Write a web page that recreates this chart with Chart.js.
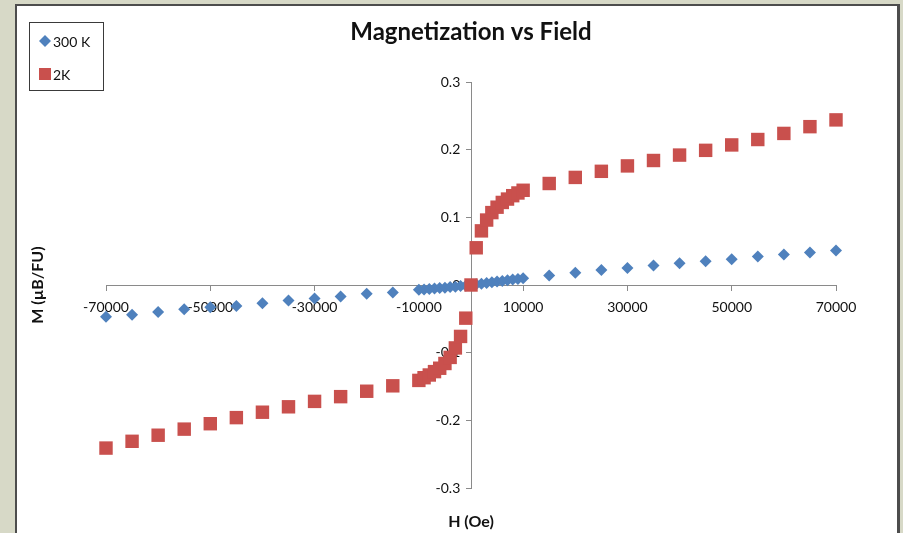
<!DOCTYPE html>
<html>
<head>
<meta charset="utf-8">
<script src="https://cdn.jsdelivr.net/npm/chart.js@4.4.0/dist/chart.umd.min.js"></script>
<style>
    body { margin: 0; background: #d7d9c7; }
    #frame { position: absolute; left: 15px; top: 4px; width: 880px; height: 540px; background: #fff; border: 2px solid #4d4d4d; border-right-width: 3px; }
    #chart { position: absolute; left: 0; top: 0; }
</style>
</head>
<body>
<div id="frame"></div>
<canvas id="chart" width="903" height="533"></canvas>
<script>
// field (Oe), same sweep for both temperatures
var fieldValues = [-70000, -65000, -60000, -55000, -50000, -45000, -40000, -35000, -30000, -25000, -20000, -15000,
    -10000, -9000, -8000, -7000, -6000, -5000, -4000, -3000, -2000, -1000, 0,
    1000, 2000, 3000, 4000, 5000, 6000, 7000, 8000, 9000, 10000,
    15000, 20000, 25000, 30000, 35000, 40000, 45000, 50000, 55000, 60000, 65000, 70000]

var moment300K = [-0.047, -0.044, -0.040, -0.036, -0.033, -0.031, -0.027, -0.023, -0.020, -0.017, -0.013, -0.011,
    -0.007, -0.0065, -0.006, -0.005, -0.0045, -0.004, -0.003, -0.0025, -0.0015, -0.001, 0,
    0.001, 0.002, 0.003, 0.004, 0.005, 0.006, 0.007, 0.008, 0.009, 0.010,
    0.014, 0.018, 0.022, 0.025, 0.029, 0.032, 0.035, 0.038, 0.042, 0.045, 0.048, 0.051]

var moment2K = [-0.241, -0.231, -0.222, -0.213, -0.205, -0.196, -0.188, -0.180, -0.172, -0.165, -0.157, -0.149,
    -0.141, -0.137, -0.133, -0.128, -0.123, -0.116, -0.107, -0.093, -0.076, -0.049, 0.0,
    0.055, 0.080, 0.096, 0.107, 0.115, 0.122, 0.127, 0.132, 0.136, 0.140,
    0.150, 0.159, 0.168, 0.176, 0.184, 0.192, 0.199, 0.207, 0.215, 0.224, 0.234, 0.244]

var seriesNames = ['300 K', '2K']
var xTicks = [-70000, -50000, -30000, -10000, 10000, 30000, 50000, 70000]
var yTicks = [-0.3, -0.2, -0.1, 0, 0.1, 0.2, 0.3]

function toPoints(ys) {
    return fieldValues.map(function (h, i) { return { x: h, y: ys[i] } })
}

// legend drawn as a framed box in the top-left corner, like the original
var boxLegend = {
    id: 'boxLegend',
    afterDraw: function (chart) {
        var ctx = chart.ctx
        ctx.save()
        ctx.strokeStyle = '#3a3a3a'
        ctx.lineWidth = 1
        ctx.strokeRect(29.5, 22.5, 74, 68)
        ctx.font = '14px Lato'
        ctx.textBaseline = 'middle'
        chart.data.datasets.forEach(function (ds, i) {
            var cx = 45, cy = 41 + i * 33
            ctx.fillStyle = ds.backgroundColor
            ctx.beginPath()
            if (ds.pointStyle === 'rectRot') {
                ctx.moveTo(cx - 6, cy)
                ctx.lineTo(cx, cy - 6)
                ctx.lineTo(cx + 6, cy)
                ctx.lineTo(cx, cy + 6)
                ctx.closePath()
            } else {
                ctx.rect(cx - 6, cy - 6, 12, 12)
            }
            ctx.fill()
            ctx.fillStyle = '#111'
            ctx.fillText(ds.label, 53, cy + 1)
        })
        ctx.restore()
    }
}

var tickFont = { family: 'Lato', size: 14 }
var axisGray = '#8a8a8a'

var ctx = document.getElementById('chart').getContext('2d')
window.chart = new Chart(ctx, {
    type: 'scatter',
    data: {
        datasets: [{
            label: seriesNames[0],
            data: toPoints(moment300K),
            pointStyle: 'rectRot',
            pointRadius: 6,
            backgroundColor: '#4f81bd',
            borderColor: '#4f81bd',
            borderWidth: 0,
            clip: false,
            order: 1
        }, {
            label: seriesNames[1],
            data: toPoints(moment2K),
            pointStyle: 'rect',
            pointRadius: 9.5,
            backgroundColor: '#c9504d',
            borderColor: '#c9504d',
            borderWidth: 0,
            clip: false,
            order: 0
        }]
    },
    options: {
        responsive: false,
        animation: false,
        layout: { padding: { left: 0, right: 67, top: 0, bottom: 0 } },
        plugins: {
            legend: { display: false },
            tooltip: { enabled: false },
            title: {
                display: true,
                text: 'Magnetization vs Field',
                fullSize: false,
                color: '#111',
                font: { family: 'Lato', size: 24, weight: 'bold' },
                padding: { top: 17.6, bottom: 35.6 }
            }
        },
        scales: {
            x: {
                type: 'linear',
                min: -70000,
                max: 70000,
                position: { y: 0 },
                z: 1,
                afterBuildTicks: function (axis) { axis.ticks = xTicks.map(function (v) { return { value: v } }) },
                ticks: { font: tickFont, color: '#111', padding: 9, maxRotation: 0, autoSkip: false,
                    callback: function (v) { return String(v) } },
                grid: { drawOnChartArea: false, tickLength: 5, color: axisGray },
                border: { color: axisGray }
            },
            y: {
                type: 'linear',
                min: -0.3,
                max: 0.3,
                position: { x: 0 },
                z: 1,
                afterBuildTicks: function (axis) { axis.ticks = yTicks.map(function (v) { return { value: v } }) },
                // a centred axis puts its labels right on the line, so pad them with spaces
                ticks: { font: tickFont, color: '#111',
                    callback: function (v) { return String(v) + '   ' } },
                grid: { drawOnChartArea: false, tickLength: 5, color: axisGray },
                border: { color: axisGray }
            },
            xTitle: {
                type: 'linear',
                axis: 'x',
                position: 'bottom',
                ticks: { display: false },
                grid: { display: false, drawTicks: false },
                border: { display: false },
                title: { display: true, text: 'H (Oe)', color: '#111',
                    font: { family: 'Lato', size: 16, weight: 'bold' },
                    padding: { top: 24.4, bottom: 1.4 } }
            },
            yTitle: {
                type: 'linear',
                axis: 'y',
                position: 'left',
                ticks: { display: false },
                grid: { display: false, drawTicks: false },
                border: { display: false },
                title: { display: true, text: 'M (µB/FU)', color: '#111',
                    font: { family: 'Lato', size: 16, weight: 'bold' },
                    padding: { top: 28.4, bottom: 58.4 } }
            }
        }
    },
    plugins: [boxLegend]
})
</script>
</body>
</html>
